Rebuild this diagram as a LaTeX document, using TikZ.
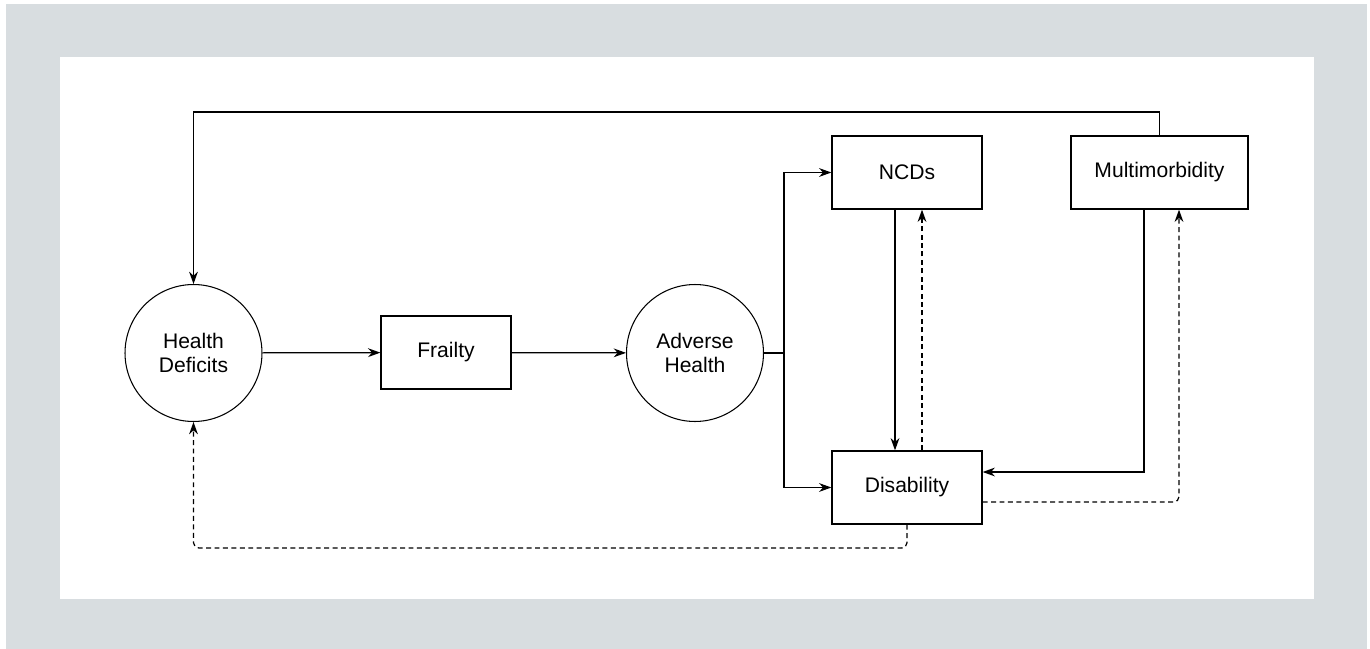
\documentclass[tikz,border=0pt]{standalone}
\usepackage{fontspec}
\setmainfont{Liberation Sans}
\usetikzlibrary{arrows.meta,positioning}
\definecolor{panelgray}{RGB}{216,221,224}

\tikzset{
	box/.style={draw,line width=0.75pt,minimum width=3cm,minimum height=1.46cm,
		inner sep=0pt,font=\fontsize{12}{14}\selectfont},
	stage/.style={draw,circle,line width=0.6pt,minimum size=2.74cm,inner sep=0pt,
		align=center,font=\fontsize{12}{14}\selectfont},
	link/.style={line width=0.7pt,->},
	back/.style={line width=0.7pt,->,dash pattern=on 2.8pt off 2pt,rounded corners=3pt}
}

\begin{document}
\begin{tikzpicture}[x=0.02cm,y=-0.02cm,>={Stealth[length=7pt,width=5pt]}]
				\useasboundingbox (0,0) rectangle (1370,649);
				\fill[panelgray] (6,4) rectangle (1367,649);
				\fill[white] (60,57) rectangle (1314,599);
				
				\node[stage] (hd) at (193.5,353) {Health\\Deficits};
				\node[box,minimum width=2.6cm] (frailty) at (446,352.5) {Frailty};
				\node[stage] (adverse) at (695,353) {Adverse\\Health};
				\node[box] (ncds) at (907,172.5) {NCDs};
				\node[box,minimum width=3.54cm] (multi) at (1159.5,172.5) {Multimorbidity};
				\node[box] (disab) at (907,487.5) {Disability};
				
				\coordinate (split) at (784,353);
				\coordinate (high) at (0,112);
				\coordinate (low) at (0,548);
				
				\draw[link] (hd) -- (frailty);
				\draw[link] (frailty) -- (adverse);
				\draw[line width=0.7pt] (adverse.east) -- (split);
				\draw[link] (split) |- (ncds.west);
				\draw[link] (split) |- (disab.west);
				
				\draw[link] ([xshift=-0.24cm]ncds.south) -- ([xshift=-0.24cm]disab.north);
				\draw[back] ([xshift=0.3cm]disab.north) -- ([xshift=0.3cm]ncds.south);
				\draw[link] ([xshift=-0.31cm]multi.south) |- ([yshift=0.31cm]disab.east);
				\draw[back] ([yshift=-0.29cm]disab.east) -| ([xshift=0.39cm]multi.south);
				
				\draw[link] (multi.north) -- (multi.north |- high) -| (hd.north);
				\draw[back] (disab.south) -- (disab.south |- low) -| (hd.south);
	\end{tikzpicture}
\end{document}
